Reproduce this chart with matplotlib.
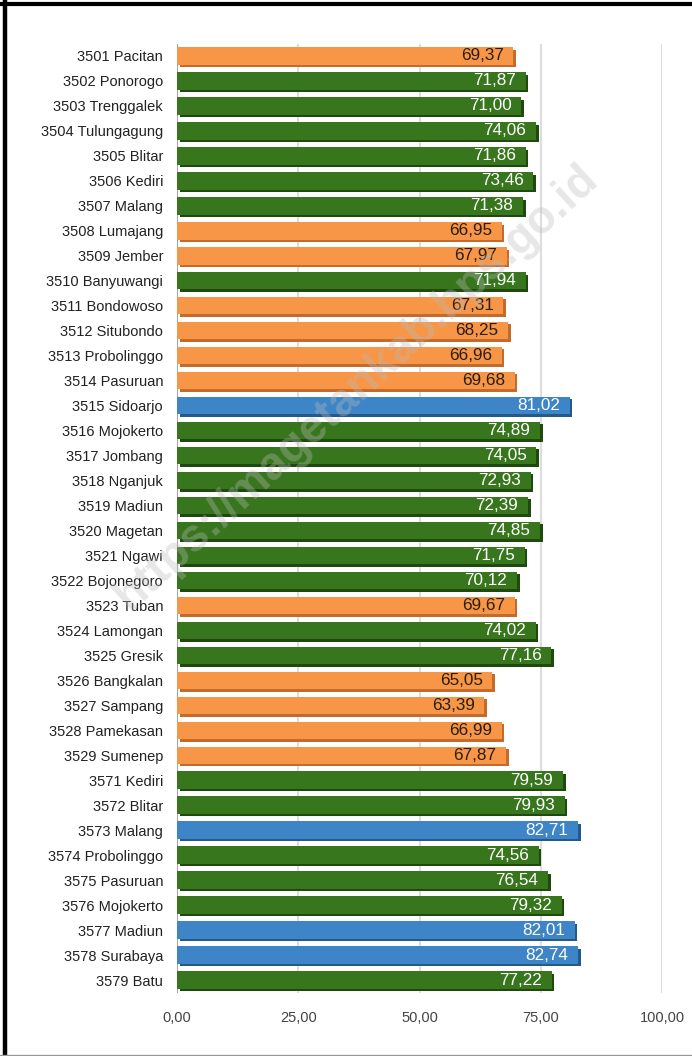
import numpy as np
import matplotlib.pyplot as plt
from matplotlib.lines import Line2D
from matplotlib.transforms import ScaledTranslation

plt.rcParams['font.family'] = ['Liberation Sans', 'DejaVu Sans']

# data
regions = ["3501 Pacitan", "3502 Ponorogo", "3503 Trenggalek", "3504 Tulungagung",
           "3505 Blitar", "3506 Kediri", "3507 Malang", "3508 Lumajang", "3509 Jember",
           "3510 Banyuwangi", "3511 Bondowoso", "3512 Situbondo", "3513 Probolinggo",
           "3514 Pasuruan", "3515 Sidoarjo", "3516 Mojokerto", "3517 Jombang",
           "3518 Nganjuk", "3519 Madiun", "3520 Magetan", "3521 Ngawi",
           "3522 Bojonegoro", "3523 Tuban", "3524 Lamongan", "3525 Gresik",
           "3526 Bangkalan", "3527 Sampang", "3528 Pamekasan", "3529 Sumenep",
           "3571 Kediri", "3572 Blitar", "3573 Malang", "3574 Probolinggo",
           "3575 Pasuruan", "3576 Mojokerto", "3577 Madiun", "3578 Surabaya", "3579 Batu"]
ipm = [69.37, 71.87, 71.00, 74.06, 71.86, 73.46, 71.38, 66.95, 67.97, 71.94,
       67.31, 68.25, 66.96, 69.68, 81.02, 74.89, 74.05, 72.93, 72.39, 74.85,
       71.75, 70.12, 69.67, 74.02, 77.16, 65.05, 63.39, 66.99, 67.87, 79.59,
       79.93, 82.71, 74.56, 76.54, 79.32, 82.01, 82.74, 77.22]
xticks = [0, 25, 50, 75, 100]


def colors_for(v):
    # fill, shadow, label colour
    if v < 70:
        return "#f79646", "#c46a2a", "#2b1d10"
    if v < 80:
        return "#38761d", "#1f4a0e", "white"
    return "#3d85c6", "#24598c", "white"


fig = plt.figure(figsize=(6.92, 10.56), dpi=100)
ax = fig.add_axes([177 / 692, 1 - 992.5 / 1056, 485 / 692, 949 / 1056])

y = np.arange(len(regions))
fills = [colors_for(v)[0] for v in ipm]
shades = [colors_for(v)[1] for v in ipm]

# darker copy shifted down-right gives the 3D edge
shadow = ax.barh(y, ipm, height=0.70, color=shades, zorder=2)
off = ax.transData + ScaledTranslation(2.5 / 100, -2.5 / 100, fig.dpi_scale_trans)
for p in shadow:
    p.set_transform(off)
ax.barh(y, ipm, height=0.70, color=fills, zorder=3)

for yi, v in zip(y, ipm):
    lab = f"{v:.2f}".replace(".", ",")
    ax.annotate(lab, (v, yi), xytext=(-7, 0), textcoords="offset points",
                ha="right", va="center", fontsize=12.3, color=colors_for(v)[2], zorder=4)

ax.set_xlim(0, 100)
ax.set_ylim(len(regions) - 0.5, -0.5)
ax.set_yticks(y)
ax.set_yticklabels(regions, fontsize=10.5, color="#222222")
ax.set_xticks(xticks)
ax.set_xticklabels([f"{t:.2f}".replace(".", ",") for t in xticks], fontsize=10.5, color="#444444")
ax.tick_params(length=0, axis="both")
ax.tick_params(axis="y", pad=10)
ax.tick_params(axis="x", pad=13)
for s in ax.spines.values():
    s.set_visible(False)
ax.grid(axis="x", color="#dddddd", linewidth=1.5, zorder=0)
ax.axvline(0, color="#999999", linewidth=1.2, zorder=1)
ax.set_axisbelow(True)

# watermark
fig.text(0.516, 0.633, "https://magetankab.bps.go.id", rotation=42.5, fontsize=33,
         fontweight="bold", color="#bbbbbb", alpha=0.35, ha="center", va="center", zorder=10)

# frame
fig.add_artist(Line2D([0, 1], [1 - 4 / 1056] * 2, color="black", linewidth=3, transform=fig.transFigure))
fig.add_artist(Line2D([5 / 692] * 2, [0, 1], color="black", linewidth=3.2, transform=fig.transFigure))
fig.add_artist(Line2D([0, 1], [1.5 / 1056] * 2, color="#999999", linewidth=1, transform=fig.transFigure))

fig.savefig("out.png", dpi=100)
